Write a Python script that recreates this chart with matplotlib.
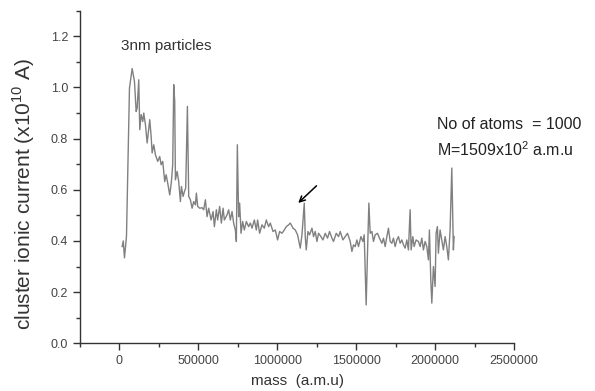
import matplotlib
matplotlib.use("Agg")
from matplotlib import pyplot as plt
from matplotlib.ticker import MultipleLocator

plt.rcParams['font.family'] = ['Liberation Sans', 'DejaVu Sans']

# Data (mass in a.m.u, current in 1e-10 A)
mass = [17000, 24000, 31600, 44300, 63300, 80400, 94900, 105700, 112000, 122100,
        128500, 137300, 147500, 153800, 164600, 175300, 191800, 200600, 207000, 217100,
        227800, 242400, 255000, 263900, 274000, 286700, 295600, 305700, 318400, 329100,
        337300, 343700, 350000, 354400, 365200, 375300, 386100, 392400, 403200, 411400,
        419600, 430400, 438600, 449400, 460100, 470200, 481000, 487300, 495600, 508200,
        523400, 533500, 544300, 555000, 565200, 580400, 593000, 601300, 613900, 622100,
        634800, 645600, 656300, 664500, 681600, 691700, 702500, 713300, 723400, 734200,
        740500, 746800, 755000, 761400, 770200, 780400, 791100, 803800, 818300, 829100,
        839900, 854400, 867100, 875300, 888000, 903100, 917700, 930400, 944900, 955700,
        972800, 987300, 1001900, 1014500, 1029700, 1044300, 1056900, 1071500, 1082300, 1099400,
        1113900, 1128500, 1145500, 1156300, 1170900, 1177200, 1183500, 1194300, 1204400, 1219600,
        1229700, 1240500, 1251200, 1261400, 1276600, 1289200, 1303800, 1318300, 1331000, 1346200,
        1356300, 1373400, 1388000, 1398800, 1415800, 1430400, 1444900, 1462000, 1472800, 1482900,
        1493600, 1504400, 1514500, 1529700, 1542400, 1550600, 1563200, 1571500, 1580300, 1588600,
        1599400, 1609500, 1620300, 1634800, 1647500, 1662500, 1672700, 1683500, 1694200, 1704300,
        1715100, 1725900, 1736000, 1746800, 1757500, 1767700, 1778400, 1789200, 1799300, 1810100,
        1820800, 1830900, 1841700, 1848000, 1858800, 1867100, 1879700, 1894300, 1905000, 1915800,
        1925900, 1936700, 1947400, 1957500, 1963900, 1972700, 1979100, 1989200, 1999900, 2006300,
        2014500, 2020800, 2031600, 2042300, 2052500, 2063300, 2074000, 2084100, 2094900, 2105700,
        2112000, 2115800, 2120200]
current = [0.378, 0.400, 0.334, 0.417, 0.998, 1.074, 1.024, 0.906, 0.920, 1.030,
           0.835, 0.894, 0.867, 0.900, 0.854, 0.783, 0.874, 0.809, 0.744, 0.776,
           0.737, 0.711, 0.730, 0.698, 0.711, 0.632, 0.659, 0.626, 0.580, 0.632,
           0.698, 1.011, 0.946, 0.639, 0.672, 0.632, 0.554, 0.613, 0.574, 0.593,
           0.607, 0.926, 0.574, 0.561, 0.528, 0.554, 0.541, 0.587, 0.535, 0.528,
           0.530, 0.522, 0.561, 0.495, 0.528, 0.482, 0.515, 0.456, 0.522, 0.482,
           0.535, 0.470, 0.528, 0.482, 0.502, 0.522, 0.482, 0.515, 0.470, 0.443,
           0.398, 0.776, 0.495, 0.548, 0.430, 0.476, 0.443, 0.476, 0.456, 0.470,
           0.450, 0.482, 0.443, 0.482, 0.430, 0.463, 0.450, 0.482, 0.456, 0.470,
           0.437, 0.443, 0.404, 0.437, 0.430, 0.443, 0.456, 0.463, 0.470, 0.450,
           0.443, 0.424, 0.372, 0.424, 0.548, 0.417, 0.365, 0.437, 0.424, 0.450,
           0.417, 0.437, 0.398, 0.430, 0.417, 0.404, 0.430, 0.411, 0.437, 0.411,
           0.398, 0.430, 0.417, 0.437, 0.404, 0.417, 0.430, 0.398, 0.359, 0.385,
           0.378, 0.404, 0.378, 0.417, 0.398, 0.424, 0.150, 0.352, 0.548, 0.430,
           0.437, 0.398, 0.424, 0.430, 0.411, 0.391, 0.411, 0.378, 0.417, 0.450,
           0.398, 0.391, 0.411, 0.378, 0.404, 0.417, 0.391, 0.404, 0.385, 0.372,
           0.404, 0.365, 0.522, 0.365, 0.417, 0.378, 0.404, 0.398, 0.378, 0.411,
           0.365, 0.398, 0.378, 0.326, 0.443, 0.248, 0.157, 0.300, 0.222, 0.430,
           0.456, 0.352, 0.443, 0.404, 0.365, 0.417, 0.378, 0.326, 0.443, 0.685,
           0.495, 0.365, 0.417]

fig = plt.figure(figsize=(5.95, 3.91), dpi=100)
ax = fig.add_axes([0.1345, 0.122, 0.7294, 0.8506])

ax.plot(mass, current, color='#808080', linewidth=1.0)

ax.set_xlim(-250000, 2500000)
ax.set_ylim(0, 1.3)
ax.xaxis.set_major_locator(MultipleLocator(500000))
ax.xaxis.set_minor_locator(MultipleLocator(250000))
ax.yaxis.set_major_locator(MultipleLocator(0.2))
ax.yaxis.set_minor_locator(MultipleLocator(0.1))
ax.set_xticks([0, 500000, 1000000, 1500000, 2000000, 2500000])
ax.set_xticklabels(['0', '500000', '1000000', '1500000', '2000000', '2500000'])
ax.set_yticks([0.0, 0.2, 0.4, 0.6, 0.8, 1.0, 1.2])
ax.set_yticklabels(['0.0', '0.2', '0.4', '0.6', '0.8', '1.0', '1.2'])

for side in ['top', 'right']:
    ax.spines[side].set_visible(False)
for side in ['left', 'bottom']:
    ax.spines[side].set_color('#333333')
    ax.spines[side].set_linewidth(1.0)
ax.tick_params(which='major', direction='out', length=5, width=1, colors='#333333',
               labelsize=9, labelcolor='#444444')
ax.tick_params(which='minor', direction='out', length=3, width=1, colors='#333333')

ax.set_xlabel('mass  (a.m.u)', fontsize=11, color='#333333', labelpad=5)
ax.set_ylabel('cluster ionic current (x10$^{\\mathregular{10}}$ A)', fontsize=15, color='#333333')
ax.yaxis.set_label_coords(-0.10, 0.45)

ax.text(12000, 1.163, '3nm particles', fontsize=11, color='#333333', va='center')
ax.text(2010000, 0.855, 'No of atoms  = 1000', fontsize=11.5, color='#222222', va='center')
ax.text(2010000, 0.755, 'M=1509x10$^{\\mathregular{2}}$ a.m.u', fontsize=11.5, color='#222222', va='center')

ax.annotate('', xy=(1120000, 0.541), xytext=(1261000, 0.623),
            arrowprops=dict(arrowstyle='->', color='black', lw=1.1))

fig.savefig('out.png', dpi=100)
